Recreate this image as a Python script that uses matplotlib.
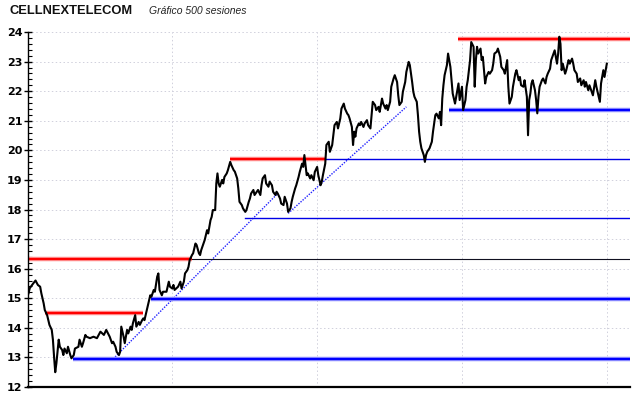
import matplotlib
matplotlib.use("Agg")
import matplotlib.pyplot as plt
from matplotlib.ticker import MultipleLocator

# price readings: session index (0..499) and closing level
sessions = [
    0, 1, 4, 6, 8, 10, 11, 13, 14, 16, 18, 20, 21, 22, 23, 24, 26, 27, 29, 30,
    31, 33, 34, 36, 37, 39, 40, 43, 44, 46, 47, 49, 50, 53, 56, 59, 62, 65, 67, 70,
    72, 73, 75, 76, 78, 79, 80, 82, 83, 85, 86, 88, 89, 90, 92, 93, 95, 96, 98, 99,
    100, 102, 103, 105, 106, 108, 109, 111, 112, 113, 115, 116, 119, 121, 122, 124, 125, 126, 129, 131,
    132, 134, 135, 137, 138, 139, 141, 142, 144, 145, 147, 148, 149, 151, 152, 154, 155, 157, 158, 159,
    161, 162, 163, 164, 165, 167, 168, 169, 171, 172, 174, 175, 177, 178, 180, 181, 182, 184, 185, 187,
    188, 190, 191, 192, 194, 195, 197, 198, 200, 201, 202, 204, 205, 207, 208, 210, 211, 213, 214, 215,
    217, 218, 220, 221, 223, 224, 226, 227, 228, 230, 231, 233, 234, 236, 237, 238, 239, 240, 241, 243,
    244, 246, 247, 249, 250, 252, 253, 254, 256, 257, 259, 260, 262, 263, 264, 266, 267, 269, 270, 272,
    273, 275, 276, 277, 279, 280, 281, 282, 283, 285, 286, 287, 289, 290, 292, 293, 295, 296, 297, 299,
    300, 302, 303, 305, 306, 308, 309, 310, 312, 313, 315, 316, 318, 319, 320, 322, 323, 325, 326, 328,
    329, 331, 332, 333, 335, 336, 337, 338, 339, 341, 342, 343, 344, 346, 348, 349, 351, 352, 354, 355,
    356, 357, 358, 359, 361, 362, 364, 365, 366, 368, 369, 371, 372, 374, 375, 377, 378, 379, 381, 382,
    384, 385, 386, 387, 388, 390, 391, 392, 394, 395, 397, 398, 400, 401, 402, 404, 405, 407, 408, 410,
    411, 413, 414, 415, 417, 418, 420, 421, 423, 424, 425, 427, 428, 430, 431, 432, 433, 434, 435, 437,
    438, 439, 440, 441, 443, 444, 446, 447, 448, 450, 451, 453, 454, 456, 457, 458, 459, 460, 461, 463,
    464, 466, 467, 469, 470, 471, 473, 474, 476, 477, 479, 480, 481, 483, 484, 486, 487, 489, 490, 492,
    493, 494, 496, 497, 499,
]
close = [
    15.17, 15.34, 15.50, 15.60, 15.45, 15.39, 15.17, 14.83, 14.60, 14.43, 14.10, 13.93, 13.60, 13.02, 12.50, 12.80, 13.60, 13.36, 13.25, 13.08,
    13.30, 13.14, 13.36, 13.08, 12.97, 13.08, 13.30, 13.36, 13.60, 13.36, 13.48, 13.76, 13.70, 13.65, 13.70, 13.65, 13.87, 13.76, 13.93, 13.70,
    13.48, 13.53, 13.36, 13.19, 13.08, 13.19, 14.04, 13.70, 13.48, 13.93, 13.81, 14.04, 13.93, 14.15, 14.43, 14.04, 14.20, 14.10, 14.26, 14.32,
    14.26, 14.60, 14.77, 15.10, 15.05, 15.28, 15.22, 15.73, 15.84, 15.28, 15.10, 15.22, 15.22, 15.56, 15.39, 15.33, 15.45, 15.28, 15.39, 15.56,
    15.33, 15.56, 15.84, 15.95, 16.06, 16.29, 16.46, 16.52, 16.85, 16.80, 16.52, 16.46, 16.63, 16.85, 16.97, 17.30, 17.19, 17.64, 17.75, 17.98,
    17.98, 18.88, 19.22, 18.88, 18.77, 19.00, 18.88, 19.10, 19.22, 19.33, 19.61, 19.50, 19.33, 19.28, 19.05, 18.71, 18.26, 18.15, 18.04, 17.92,
    17.98, 18.26, 18.37, 18.54, 18.66, 18.49, 18.60, 18.66, 18.49, 18.82, 19.05, 19.16, 18.88, 18.77, 18.94, 18.82, 18.60, 18.49, 18.60, 18.54,
    18.37, 18.20, 18.15, 18.43, 18.20, 17.92, 18.04, 18.26, 18.43, 18.71, 18.82, 19.10, 19.27, 19.55, 19.44, 19.84, 19.50, 19.16, 19.22, 19.05,
    19.16, 18.99, 19.27, 19.44, 19.16, 18.82, 18.94, 19.16, 19.55, 20.18, 20.29, 19.95, 20.18, 20.51, 20.85, 20.96, 20.74, 21.08, 21.41, 21.58,
    21.41, 21.24, 21.19, 21.08, 20.79, 20.18, 20.63, 20.46, 20.74, 20.91, 20.85, 20.96, 20.79, 20.91, 21.02, 20.85, 20.74, 21.19, 21.64, 21.53,
    21.36, 21.47, 21.30, 21.75, 21.58, 21.41, 21.53, 21.36, 21.64, 22.15, 22.43, 22.54, 22.31, 21.86, 21.53, 21.64, 21.98, 22.31, 22.65, 22.99,
    22.88, 22.31, 21.98, 21.81, 21.64, 21.19, 20.63, 20.29, 20.07, 19.84, 19.61, 19.84, 19.95, 20.07, 20.29, 20.63, 21.19, 21.24, 21.08, 21.30,
    20.85, 21.75, 22.20, 22.54, 22.88, 23.27, 22.82, 22.37, 21.92, 21.58, 21.81, 22.26, 21.70, 22.15, 21.36, 21.70, 22.15, 22.37, 23.05, 23.66,
    23.50, 22.15, 23.05, 23.50, 23.27, 23.44, 23.05, 23.16, 22.26, 22.48, 22.65, 22.59, 22.71, 22.93, 23.27, 23.33, 23.44, 23.16, 22.82, 22.71,
    22.59, 23.05, 22.15, 21.58, 21.81, 22.15, 22.59, 22.71, 22.37, 22.48, 22.20, 22.15, 22.37, 21.81, 20.51, 21.70, 21.92, 22.26, 22.37, 22.03,
    21.70, 21.25, 21.81, 22.15, 22.37, 22.43, 22.26, 22.48, 22.59, 22.76, 23.05, 23.27, 23.38, 22.93, 23.27, 23.84, 23.60, 22.71, 22.93, 22.59,
    22.71, 23.05, 22.93, 23.10, 22.93, 22.71, 22.59, 22.31, 22.43, 22.20, 22.37, 22.15, 22.31, 22.03, 22.20, 21.98, 21.86, 22.37, 22.15, 21.81,
    21.64, 22.26, 22.71, 22.48, 22.93,
]

# resistance (red) levels: level, first session, last session
res_level = [16.33, 14.50, 19.72, 23.76]
res_start = [0, 14, 174, 371]
res_end = [141, 99, 257, 519]

# support (blue) levels
sup_level = [12.93, 14.97, 21.37, 17.70, 19.72]
sup_start = [38, 106, 363, 187, 257]
sup_end = [519, 519, 519, 519, 519]
sup_thick = [True, True, True, False, False]

# continuation of the broken 16.33 resistance
old_level = 16.33
old_start = 141

# trend lines: (session, level) pairs
trend_s = [(73, 215), (224, 326)]
trend_v = [(12.95, 18.54), (17.87, 21.47)]

fig = plt.figure(figsize=(6.4, 3.98), dpi=100, facecolor="white")
ax = fig.add_axes([28 / 640, 11 / 398, 602 / 640, 355 / 398])
ax.set_xlim(-0.5, 519)
ax.set_ylim(12, 24)

# grid
for yv in range(13, 25):
    ax.axhline(yv, color="#d0d0dc", lw=0.7, ls=(0, (1.5, 2.5)), zorder=0)
for xv in [124, 249, 374, 499]:
    ax.axvline(xv, color="#d0d0dc", lw=0.7, ls=(0, (1.5, 2.5)), zorder=0)

# trend lines
for (s0, s1), (v0, v1) in zip(trend_s, trend_v):
    ax.plot([s0, s1], [v0, v1], color="#2020ff", lw=1, ls=(0, (1, 1)), zorder=2)

# support lines
for lvl, s0, s1, thick in zip(sup_level, sup_start, sup_end, sup_thick):
    if thick:
        ax.plot([s0, s1], [lvl, lvl], color="#8c8cff", lw=3.2, solid_capstyle="butt", zorder=2)
        ax.plot([s0, s1], [lvl, lvl], color="#0000ff", lw=1.5, solid_capstyle="butt", zorder=2)
    else:
        ax.plot([s0, s1], [lvl, lvl], color="#0000e6", lw=1.0, zorder=2)

ax.plot([old_start, 519], [old_level, old_level], color="#101020", lw=0.8, zorder=2)

# resistance lines
for lvl, s0, s1 in zip(res_level, res_start, res_end):
    ax.plot([s0, s1], [lvl, lvl], color="#ff8c8c", lw=3.2, solid_capstyle="butt", zorder=2)
    ax.plot([s0, s1], [lvl, lvl], color="#ff0000", lw=1.5, solid_capstyle="butt", zorder=2)

# price
ax.plot(sessions, close, color="black", lw=1.5, zorder=3)

# axes styling
for side in ["top", "right"]:
    ax.spines[side].set_visible(False)
ax.spines["bottom"].set_linewidth(1.6)
ax.spines["left"].set_linewidth(1.0)
ax.set_xticks([])
ax.yaxis.set_major_locator(MultipleLocator(1))
ax.yaxis.set_minor_locator(MultipleLocator(0.2))
ax.tick_params(axis="y", which="major", direction="inout", length=6, width=1,
               labelsize=8, pad=1)
ax.tick_params(axis="y", which="minor", direction="in", length=3, width=0.8)
for lbl in ax.get_yticklabels():
    lbl.set_fontweight("bold")

fig.text(10 / 640, 1 - 10.5 / 398, "CELLNEXTELECOM", fontsize=9.3, fontweight="bold",
         family="Liberation Sans", va="center", ha="left", color="#111111")
fig.text(149 / 640, 1 - 11 / 398, "Gráfico 500 sesiones", fontsize=7.5, style="italic",
         family="Liberation Sans", va="center", ha="left", color="#222222")

fig.savefig("out.png", dpi=100, facecolor="white")
